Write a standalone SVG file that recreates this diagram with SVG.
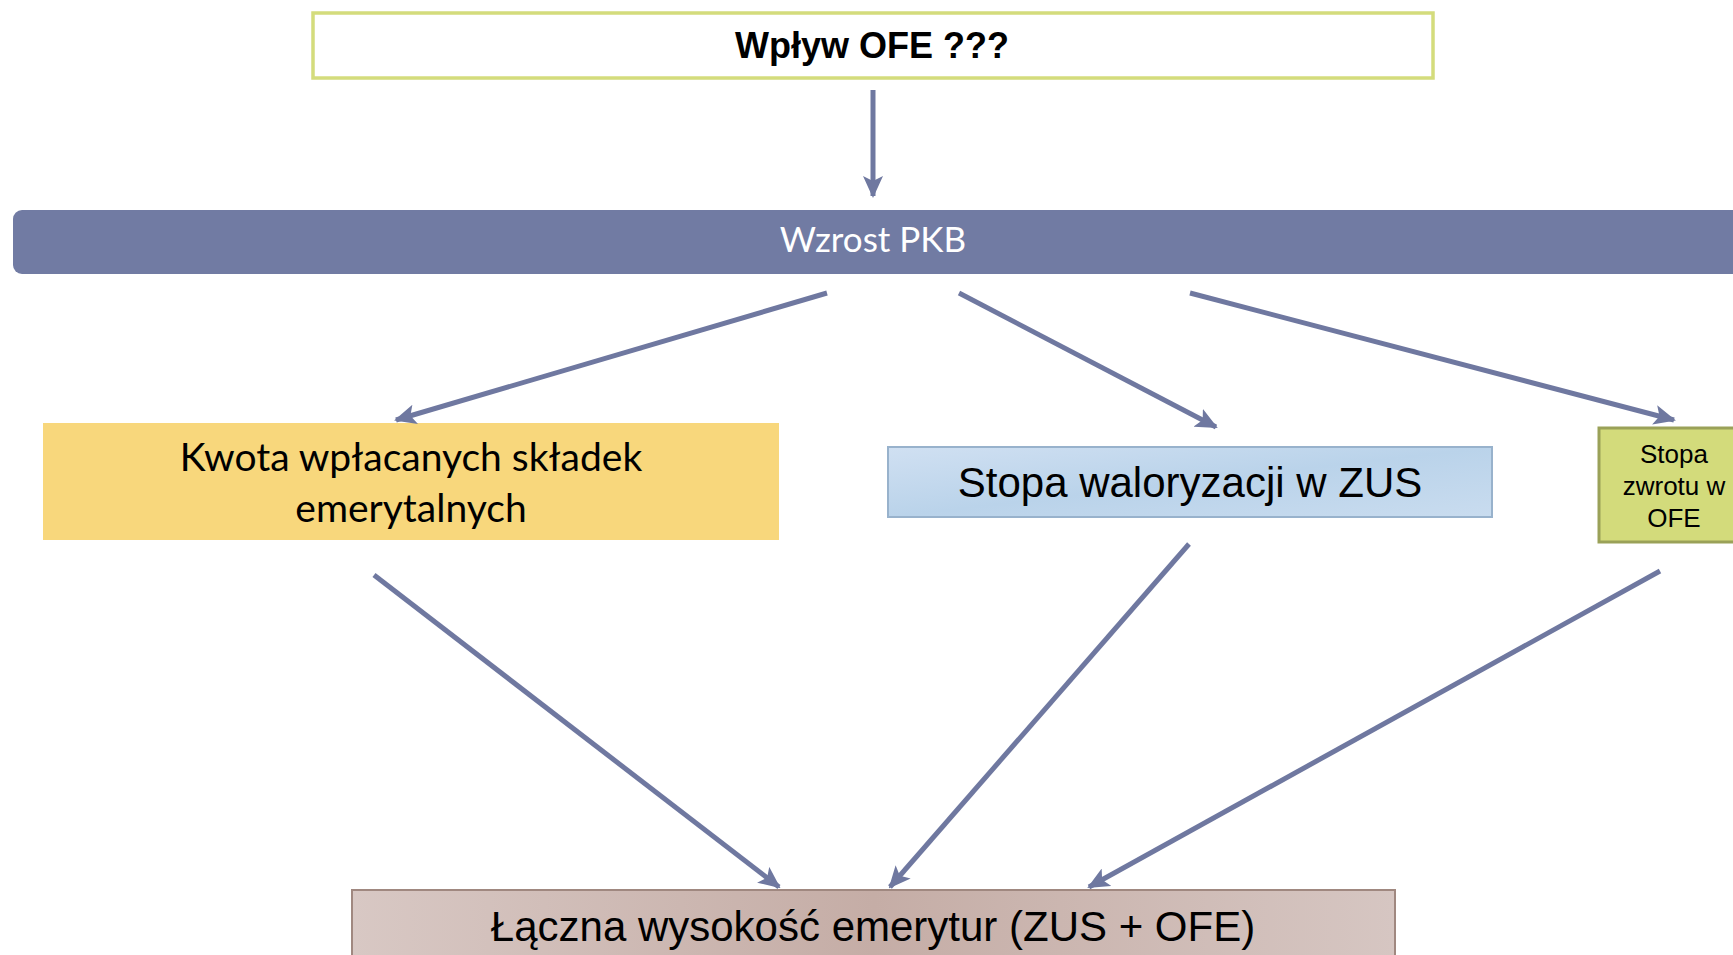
<svg xmlns="http://www.w3.org/2000/svg" width="1733" height="955" viewBox="0 0 1733 955">
<style>
.arial{font-family:"Liberation Sans",Arial,sans-serif;fill:#000}
.gill{font-family:Lato,"Open Sans",sans-serif}
.conn{stroke:#6f78a0;stroke-width:5;fill:none;marker-end:url(#ah)}
</style>
<defs>
<marker id="ah" markerUnits="userSpaceOnUse" markerWidth="22" markerHeight="20" refX="20" refY="10" orient="auto">
<path d="M0,0 L22,10 L0,20 L5,10 Z" fill="#6f78a0"/>
</marker>
<linearGradient id="gBlue" x1="0" y1="0" x2="1" y2="1">
<stop offset="0" stop-color="#d0e0f2"/>
<stop offset="0.5" stop-color="#bad3ea"/>
<stop offset="1" stop-color="#c9dcef"/>
</linearGradient>
<linearGradient id="gRose" x1="0" y1="0" x2="1" y2="0">
<stop offset="0" stop-color="#d8c8c4"/>
<stop offset="0.5" stop-color="#c5ada6"/>
<stop offset="1" stop-color="#d6c6c2"/>
</linearGradient>
</defs>

<g id="node-wplyw">
<rect x="313" y="13" width="1120" height="65" fill="#fff" stroke="#d4dc7c" stroke-width="3.5"/>
<text class="arial" x="872" y="58" font-size="36" font-weight="bold" text-anchor="middle">Wpływ OFE ???</text>
</g>

<g id="node-pkb">
<rect x="13" y="210" width="1730" height="64" rx="9" fill="#717ba3"/>
<text class="gill" x="873" y="252" font-size="35" fill="#fff" text-anchor="middle">Wzrost PKB</text>
</g>

<g id="node-kwota">
<rect x="43" y="423" width="736" height="117" fill="#f8d77c"/>
<text class="gill" font-size="39" fill="#000" text-anchor="middle"><tspan x="411" y="471">Kwota wpłacanych składek</tspan><tspan x="411" y="522">emerytalnych</tspan></text>
</g>

<g id="node-zus">
<rect x="888" y="447" width="604" height="70" fill="url(#gBlue)" stroke="#98b2cc" stroke-width="2"/>
<text class="arial" x="1190" y="497" font-size="42" text-anchor="middle">Stopa waloryzacji w ZUS</text>
</g>

<g id="node-ofe">
<rect x="1599" y="428" width="150" height="114" fill="#d3db7b" stroke="#9aa158" stroke-width="3"/>
<text class="arial" font-size="26" text-anchor="middle"><tspan x="1674" y="463">Stopa</tspan><tspan x="1674" y="495">zwrotu w</tspan><tspan x="1674" y="527">OFE</tspan></text>
</g>

<g id="node-laczna">
<rect x="352" y="890" width="1043" height="80" fill="url(#gRose)" stroke="#a08880" stroke-width="2"/>
<text class="arial" x="873" y="941" font-size="42" text-anchor="middle">Łączna wysokość emerytur (ZUS + OFE)</text>
</g>

<g id="connectors">
<line class="conn" x1="873" y1="90" x2="873" y2="196"/>
<line class="conn" x1="827" y1="293" x2="396" y2="420"/>
<line class="conn" x1="959" y1="293" x2="1216" y2="427"/>
<line class="conn" x1="1190" y1="293" x2="1674" y2="420"/>
<line class="conn" x1="374" y1="575" x2="779" y2="887"/>
<line class="conn" x1="1189" y1="544" x2="890" y2="887"/>
<line class="conn" x1="1660" y1="571" x2="1089" y2="887"/>
</g>
</svg>
